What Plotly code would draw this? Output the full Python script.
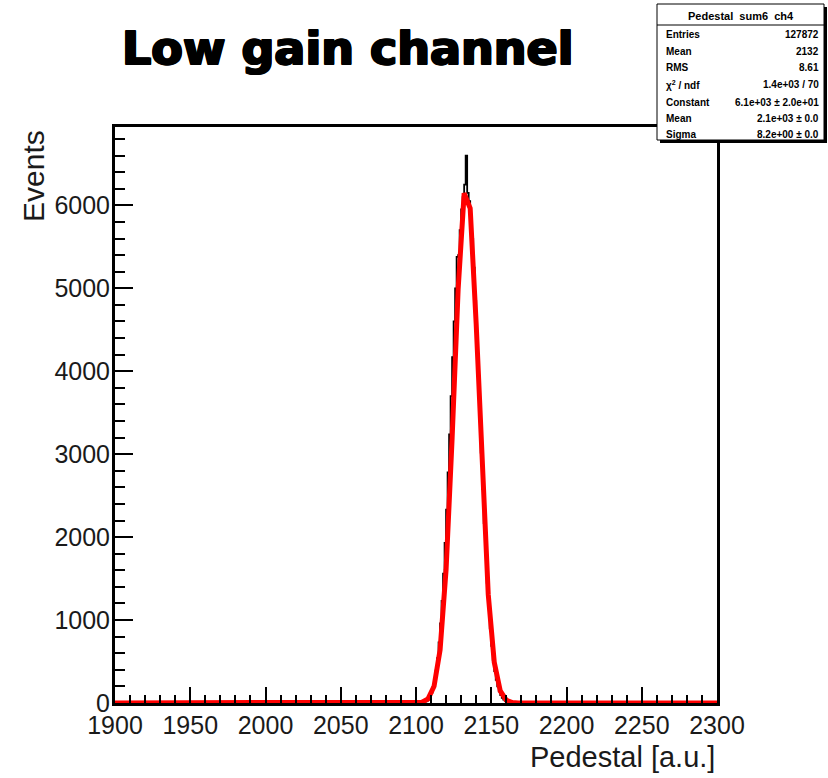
import plotly.graph_objects as go

# ---------------- data ----------------
# histogram (1 unit bins), lower bin edges and counts around the peak (rest are zero)
hist_edges = list(range(2105, 2163))
hist_counts = [10, 18, 30, 52, 80, 125, 190, 270, 390, 540,
               730, 960, 1230, 1560, 1930, 2330, 2780, 3240, 3700, 4170,
               4600, 5000, 5380, 5400, 5700, 5950, 6100, 6250, 6600, 6150,
               6050, 5850, 5600, 5250, 4850, 4400, 3950, 3480, 3020, 2580,
               2170, 1790, 1450, 1150, 900, 690, 520, 385, 280, 200,
               140, 95, 63, 41, 26, 16, 10, 6]

# fitted gaussian as drawn (sampled every 4 units)
fit_x = [1900, 2096, 2100, 2104, 2108, 2112, 2116, 2120, 2124, 2128, 2132,
         2136, 2140, 2144, 2148, 2152, 2156, 2160, 2164, 2168, 2300]
fit_y = [0, 0, 1.5, 10, 50, 201, 641, 1612, 3195, 4991, 6146,
         5966, 4565, 2753, 1309, 491, 145, 34, 6, 1, 0]

x_ticks = [1900, 1950, 2000, 2050, 2100, 2150, 2200, 2250, 2300]
y_ticks = [0, 1000, 2000, 3000, 4000, 5000, 6000]

title_text = "Low gain channel"
x_title = "Pedestal [a.u.]"
y_title = "Events"
stats_header = "Pedestal  sum6  ch4"
stats_labels = ["Entries", "Mean", "RMS", "χ<sup>2</sup> / ndf", "Constant", "Mean", "Sigma"]
stats_values = ["127872", "2132", "8.61", "1.4e+03 / 70",
                "6.1e+03 ± 2.0e+01", "2.1e+03 ± 0.0", "8.2e+00 ± 0.0"]

# ---------------- layout geometry ----------------
W, H = 828, 778
L, R, T, B = 115, 717, 127, 703
PW, PH = R - L, B - T


def px(xp):
    return (xp - L) / PW


def py(yp):
    return (B - yp) / PH


# histogram step line (full range with zeros outside)
hx = [1900, hist_edges[0]]
hy = [0, 0]
for e, c in zip(hist_edges, hist_counts):
    hx += [e, e + 1]
    hy += [c, c]
hx += [hist_edges[-1] + 1, hist_edges[-1] + 1, 2300]
hy += [0, 0, 0]

fig = go.Figure()
fig.add_trace(go.Scatter(x=hx, y=hy, mode="lines",
                         line=dict(color="black", width=1.8, shape="linear"),
                         hoverinfo="skip", showlegend=False))
fig.add_trace(go.Scatter(x=fit_x, y=fit_y, mode="lines",
                         line=dict(color="#ff0000", width=5),
                         hoverinfo="skip", showlegend=False))

axis_font = dict(family="Liberation Sans, Arial, sans-serif", size=25, color="#1a1a1a")

fig.update_xaxes(range=[1900, 2300], tickvals=x_ticks, ticktext=[str(v) for v in x_ticks],
                 ticks="inside", ticklen=16, tickwidth=1.5, tickcolor="black",
                 minor=dict(dtick=10, ticks="inside", ticklen=8, tickwidth=1.5, tickcolor="black"),
                 showgrid=False, zeroline=False, showline=True, linecolor="black", linewidth=3,
                 mirror=True, tickfont=axis_font, ticklabelstandoff=-2)
fig.update_yaxes(range=[0, 6945], tickvals=y_ticks, ticktext=[str(v) for v in y_ticks],
                 ticks="inside", ticklen=18, tickwidth=1.5, tickcolor="black",
                 minor=dict(dtick=200, ticks="inside", ticklen=10, tickwidth=1.5, tickcolor="black"),
                 showgrid=False, zeroline=False, showline=True, linecolor="black", linewidth=3,
                 mirror=True, tickfont=axis_font, ticklabelstandoff=-3)

annotations = []
shapes = []

# title (text-shadow thickening to mimic a heavy black face)
heavy = "1px 0 0 #000, 2px 0 0 #000, 0 1px 0 #000, 1px 1px 0 #000, 2px 1px 0 #000"
annotations.append(dict(x=px(119), y=py(48), xref="paper", yref="paper",
                        text=f"<b>{title_text}</b>",
                        showarrow=False, xanchor="left", yanchor="middle",
                        font=dict(family="DejaVu Sans", size=46, color="black", shadow=heavy)))
# axis titles
annotations.append(dict(x=px(717), y=py(757), xref="paper", yref="paper", text=x_title,
                        showarrow=False, xanchor="right", yanchor="middle",
                        font=dict(family="Liberation Sans, Arial, sans-serif", size=29, color="#1a1a1a")))
annotations.append(dict(x=px(33), y=py(176), xref="paper", yref="paper", text=y_title, textangle=-90,
                        showarrow=False, xanchor="center", yanchor="middle",
                        font=dict(family="Liberation Sans, Arial, sans-serif", size=30, color="#1a1a1a")))

# stats box
bx0, bx1, by0, by1 = 657, 824, 4, 140
shapes.append(dict(type="rect", xref="paper", yref="paper", x0=px(bx0 + 3), x1=px(bx1 + 3),
                   y0=py(by1 + 3), y1=py(by0 + 3), fillcolor="black", line=dict(width=0), layer="above"))
shapes.append(dict(type="rect", xref="paper", yref="paper", x0=px(bx0), x1=px(bx1),
                   y0=py(by1), y1=py(by0), fillcolor="white", line=dict(color="black", width=1), layer="above"))
shapes.append(dict(type="line", xref="paper", yref="paper", x0=px(bx0), x1=px(bx1),
                   y0=py(25), y1=py(25), line=dict(color="black", width=1), layer="above"))

sfont = dict(family="Liberation Sans, Arial, sans-serif", size=10, color="black")
annotations.append(dict(x=px((bx0 + bx1) / 2), y=py(16), xref="paper", yref="paper",
                        text=f"<b>{stats_header}</b>", showarrow=False, xanchor="center", yanchor="middle",
                        font=dict(family="Liberation Sans, Arial, sans-serif", size=11, color="black")))
row_y = [34, 51, 68, 85, 102, 118, 135]
for lab, val, ry in zip(stats_labels, stats_values, row_y):
    annotations.append(dict(x=px(bx0 + 7), y=py(ry), xref="paper", yref="paper", text=f"<b>{lab}</b>",
                            showarrow=False, xanchor="left", yanchor="middle", font=sfont))
    annotations.append(dict(x=px(bx1 - 3), y=py(ry), xref="paper", yref="paper", text=f"<b>{val}</b>",
                            showarrow=False, xanchor="right", yanchor="middle", font=sfont))

fig.update_layout(width=W, height=H, margin=dict(l=L, r=W - R, t=T, b=H - B, pad=0),
                  plot_bgcolor="white", paper_bgcolor="white",
                  annotations=annotations, shapes=shapes, showlegend=False)

fig.write_html("out.html")
